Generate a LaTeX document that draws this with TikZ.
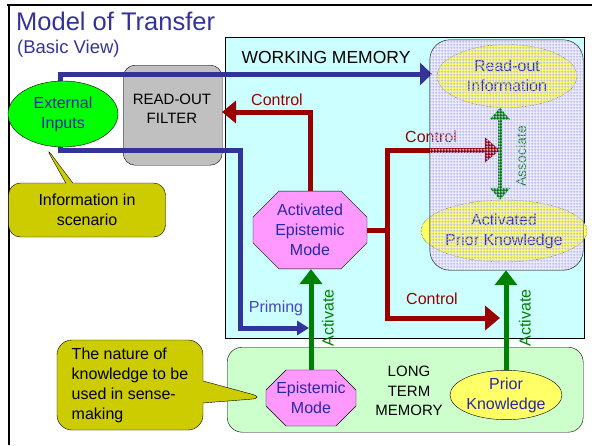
\documentclass[tikz,border=0pt]{standalone}
\usepackage{fontspec}
\setmainfont{Liberation Sans}
\usetikzlibrary{arrows.meta,shapes.geometric,shapes.misc,shapes.callouts,patterns}
\definecolor{tblue}{RGB}{51,51,153}
\definecolor{nblue}{RGB}{40,40,170}
\definecolor{pblue}{RGB}{70,70,200}
\definecolor{dred}{RGB}{153,0,0}
\definecolor{agreen}{RGB}{0,128,0}
\definecolor{olivef}{RGB}{204,204,0}
\definecolor{pinkf}{RGB}{255,153,255}
\definecolor{cyanf}{RGB}{204,255,255}
\definecolor{mintf}{RGB}{204,255,204}
\definecolor{yellf}{RGB}{255,255,102}
\definecolor{greyf}{RGB}{192,192,192}
\definecolor{lavline}{RGB}{190,190,245}
\definecolor{lavbase}{RGB}{238,238,255}
\pgfdeclarepatternformonly{lavgrid}{\pgfqpoint{0pt}{0pt}}{\pgfqpoint{3pt}{3pt}}{\pgfqpoint{3pt}{3pt}}{%
  \pgfsetlinewidth{1pt}%
  \pgfpathmoveto{\pgfqpoint{0pt}{1.5pt}}\pgfpathlineto{\pgfqpoint{3pt}{1.5pt}}%
  \pgfpathmoveto{\pgfqpoint{1.5pt}{0pt}}\pgfpathlineto{\pgfqpoint{1.5pt}{3pt}}%
  \pgfusepath{stroke}}
\begin{document}
\begin{tikzpicture}[x=1pt,y=-1pt,
  txt/.style={font=\fontsize{16}{20}\selectfont, align=center, inner sep=0pt},
  capt/.style={font=\fontsize{15}{19.5}\selectfont, align=center, inner sep=0pt},
  octo/.style={chamfered rectangle, draw, fill=pinkf, text=nblue, inner sep=0pt},
  callbox/.style={rectangle callout, draw, fill=olivef, rounded corners=12pt, inner sep=0pt},
  bline/.style={draw=tblue, line width=5pt},
  rline/.style={draw=dred, line width=5pt},
  gline/.style={draw=agreen, line width=5pt},
  ]
\useasboundingbox (0,0) rectangle (592,445);
% frame
\draw[line width=2.5pt] (7,5) -- (592,5);
\draw[line width=2.5pt] (9,5) -- (9,445);
% title
\node[anchor=west, text=tblue, font=\fontsize{25.5}{30}\selectfont, inner sep=0pt] (title) at (16,21) {Model of Transfer};
\node[anchor=west, text=tblue, font=\fontsize{18.5}{22}\selectfont, inner sep=0pt] (sub) at (17,49) {(Basic View)};
% working memory
\node[draw, fill=cyanf, minimum width=359, minimum height=301, anchor=north west, inner sep=0pt] (wm) at (225,37) {};
\node[font=\fontsize{17.5}{21}\selectfont, inner sep=0pt] (wmlab) at (326,57) {WORKING MEMORY};
% long term memory
\node[draw, fill=mintf, rounded corners=15pt, minimum width=356, minimum height=85, anchor=north west, inner sep=0pt] (ltm) at (227,347) {};
\node[capt] (ltmlab) at (409,391) {LONG\\TERM\\MEMORY};
% inner box base
\node[fill=lavbase, rounded corners=20pt, minimum width=153, minimum height=230, inner sep=0pt] (inn) at (506.5,155) {};
% read-out filter
\node[draw, fill=greyf, rounded corners=12pt, minimum width=99, minimum height=100, anchor=north west, inner sep=0pt] (rof) at (123,65) {};
\node[capt] (roflab) at (172,109) {READ-OUT\\FILTER};
% blue lines
\coordinate (rin) at (432,74);
\coordinate (prim) at (309,328);
\node[ellipse, minimum width=110, minimum height=66, inner sep=0pt] (extpos) at (63,114) {};
\draw[bline, -{Triangle[length=12pt,width=22pt]}] ([xshift=-3pt]extpos.north) |- (rin);
\draw[bline, -{Triangle[length=12pt,width=14pt]}] ([xshift=-3pt]extpos.south) -- (60,150) -- (240,150) -- (240,328) -- (prim);
\node[txt, text=pblue] (primlab) at (276,308) {Priming};
% external inputs
\node[ellipse, draw, fill=green, text=nblue, minimum width=110, minimum height=66, txt] (ext) at (63,114) {External\\Inputs};
% callout 1
\coordinate (ptr1) at (45,146);
\node[callbox, callout absolute pointer={(ptr1)}, minimum width=157, minimum height=54, txt] (c1) at (87,210) {Information in\\scenario};
% octagons
\node[octo, minimum width=114, minimum height=74, chamfered rectangle xsep=13pt, chamfered rectangle ysep=13pt, txt] (aem) at (310,230) {Activated\\Epistemic\\Mode};
\node[octo, minimum width=90, minimum height=56, chamfered rectangle xsep=10pt, chamfered rectangle ysep=10pt, txt] (em) at (311,398) {Epistemic\\Mode};
% red control lines
\coordinate (ctl1) at (222,112);
\draw[rline, -{Triangle[length=14pt,width=22pt]}] (aem.north) |- (ctl1);
\node[txt, text=dred] (cl1) at (277,100) {Control};
\coordinate (rv1) at (387,150);
\coordinate (rv2) at (387,318);
\coordinate (ca1) at (500,150);
\coordinate (ca2) at (500,318);
\draw[rline] (aem.east) -- (aem.east -| rv1);
\draw[rline, {Triangle[length=15pt,width=24pt]}-{Triangle[length=15pt,width=24pt]}] (ca1) -- (rv1) -- (rv2) -- (ca2);
\node[txt, text=dred] (cl2) at (431,137) {Control};
\node[txt, text=dred] (cl3) at (432,299) {Control};
% inner ellipses
\node[ellipse, draw, densely dotted, fill=yellf, text=nblue, minimum width=140, minimum height=63, txt] (rinfo) at (507,76) {Read-out\\Information};
\node[ellipse, draw, densely dotted, fill=yellf, text=nblue, minimum width=142, minimum height=62, txt] (apk) at (504,231) {Activated\\Prior Knowledge};
\draw[draw=agreen, line width=3.5pt, {Triangle[length=12pt,width=20pt]}-{Triangle[length=12pt,width=20pt]}] ([xshift=-7pt]rinfo.south) -- ([xshift=-4pt]apk.north);
\node[rotate=90, text=agreen, font=\fontsize{14}{17}\selectfont, inner sep=0pt] (assoc) at (521,156) {Associate};
% inner box overlay
\fill[pattern=lavgrid, pattern color=lavline, rounded corners=20pt] (inn.north west) rectangle (inn.south east);
\draw[rounded corners=20pt] (inn.north west) rectangle (inn.south east);
% prior knowledge
\node[ellipse, draw, fill=yellf, text=nblue, minimum width=102, minimum height=45, txt] (pk) at (506,395) {Prior\\Knowledge};
% green activate arrows
\draw[gline, -{Triangle[length=15pt,width=22pt]}] (em.north) -- (em.north |- aem.south);
\draw[gline, -{Triangle[length=15pt,width=22pt]}] (pk.north) -- (pk.north |- inn.south);
\node[rotate=90, text=agreen, txt] (act1) at (328,318) {Activate};
\node[rotate=90, text=agreen, txt] (act2) at (525,318) {Activate};
% callout 2
\node[callbox, callout absolute pointer={(em.west)}, callout pointer width=22pt, minimum width=146, minimum height=90, txt, align=left, rounded corners=15pt] (c2) at (130,385) {The nature of\\knowledge to be\\used in sense-\\making};
\end{tikzpicture}
\end{document}
